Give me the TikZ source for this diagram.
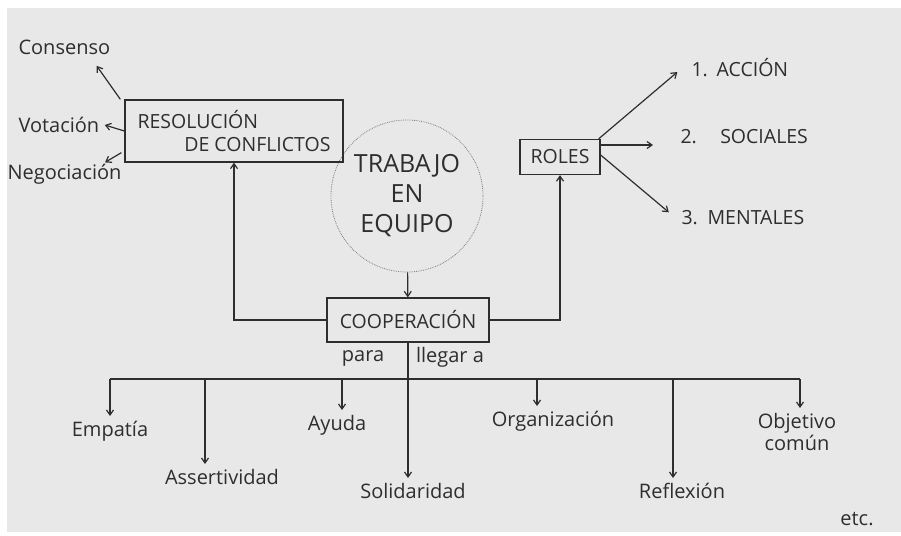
\documentclass[tikz,border=0pt]{standalone}
\usepackage{fontspec}
\setmainfont{Open Sans}
\usetikzlibrary{arrows.meta}

\begin{document}
\begin{tikzpicture}[x=1pt, y=-1pt]
\tikzset{
  arrow/.style={
    >={Straight Barb[length=5pt, width=7pt]}
  },
  line/.style={
    draw=ink,
    ->,
    line width=1.2pt,
  },
  box/.style={
    draw=ink,
    line width=1.3pt,
    inner sep=0pt
  },
  caps/.style={
    text=ink,
    font=\fontsize{19.5}{23}\selectfont
  },
  word/.style={
    text=ink,
    font=\fontsize{20}{22}\selectfont
  }
}
\definecolor{ink}{HTML}{2E2E2E}
\definecolor{paper}{HTML}{E8E8E8}

\useasboundingbox (0,0) rectangle (901,535);
\fill[paper] (7,8) rectangle (901,532);

% Centre
\node (equipo) [circle, draw=gray, densely dotted, line width=0.8pt,
  minimum size=152pt, caps, font=\fontsize{25}{30}\selectfont, align=center]
  at (407,196) {TRABAJO\\EN\\EQUIPO};
\node (coop) [box, minimum width=162pt, minimum height=44pt, caps] at (408,320) {COOPERACIÓN};
\draw[line, arrow] (equipo) to (coop);

% Resolucion de conflictos
\node (res) [box, minimum width=218pt, minimum height=62pt, caps, align=left] at (234,131)
  {RESOLUCIÓN\\\hspace*{2.4em}DE CONFLICTOS};
\node (consenso) [word, anchor=west] at (15,47) {Consenso};
\node (votacion) [word, anchor=west] at (15,125) {Votación};
\node (negociacion) [word, anchor=west] at (4,174) {Negociación};
\draw[line, arrow] ([xshift=-4pt]res.north west) to ([xshift=-17pt, yshift=-8pt]consenso.south east);
\draw[line, arrow] (res.west) to ([xshift=2pt]votacion.east);
\draw[line, arrow] ([xshift=-3pt, yshift=10pt]res.south west) to ([xshift=-20pt, yshift=-2pt]negociacion.north east);
\draw[line, arrow] (coop.west) -| (res.south);

% Roles
\node (roles) [box, minimum width=80pt, minimum height=35pt, caps] at (560,157) {ROLES};
\node (accion) [caps, anchor=west] at (688,68) {1.\hspace{0.45em}ACCIÓN};
\node (sociales) [caps, anchor=west] at (677,137) {2.\hspace{1.2em}SOCIALES};
\node (mentales) [caps, anchor=west] at (678,218) {3.\hspace{0.5em}MENTALES};
\draw[line, arrow, shorten >=14pt] ([xshift=-2pt]roles.north east) to ([yshift=5pt]accion.west);
\draw[line, arrow, shorten >=24pt] ([yshift=12pt]roles.east) to ([yshift=-8pt]sociales.west);
\draw[line, arrow, shorten >=12pt] ([yshift=2pt]roles.east) to ([yshift=-2pt]mentales.west);
\draw[line, arrow] (coop.east) -| (roles.south);

% Para llegar a
\node (para) [word] at (363,358) {para};
\node (llegar) [word] at (450,357) {llegar a};
\coordinate (barw) at (110,379);
\coordinate (bare) at (800,379);
\draw[ink, line width=1.2pt] (barw) -- (bare);

\node (empatia) [word, anchor=north] at (110,418) {Empatía};
\node (aser) [word, anchor=north] at (222,466) {Assertividad};
\node (ayuda) [word, anchor=north] at (337,412) {Ayuda};
\node (soli) [word, anchor=north] at (413,480) {Solidaridad};
\node (org) [word, anchor=north] at (553,408) {Organización};
\node (refl) [word, anchor=north] at (682,480) {Reflexión};
\node (obj) [word, anchor=north, align=center] at (797,410) {Objetivo\\común};
\node (etc) [word] at (857,519) {etc.};

\coordinate (d1) at (110,379);
\coordinate (d2) at (205,379);
\coordinate (d3) at (342,379);
\coordinate (d5) at (537,379);
\coordinate (d6) at (673,379);
\coordinate (d7) at (800,379);
\draw[line, arrow] (coop.south) to ([yshift=2pt]coop.south |- soli.north);
\draw[line, arrow] (d1) to ([yshift=2pt]d1 |- empatia.north);
\draw[line, arrow] (d2) to ([yshift=2pt]d2 |- aser.north);
\draw[line, arrow] (d3) to ([yshift=2pt]d3 |- ayuda.north);
\draw[line, arrow] (d5) to ([yshift=2pt]d5 |- org.north);
\draw[line, arrow] (d6) to ([yshift=2pt]d6 |- refl.north);
\draw[line, arrow] (d7) to ([yshift=2pt]d7 |- obj.north);

\end{tikzpicture}
\end{document}
